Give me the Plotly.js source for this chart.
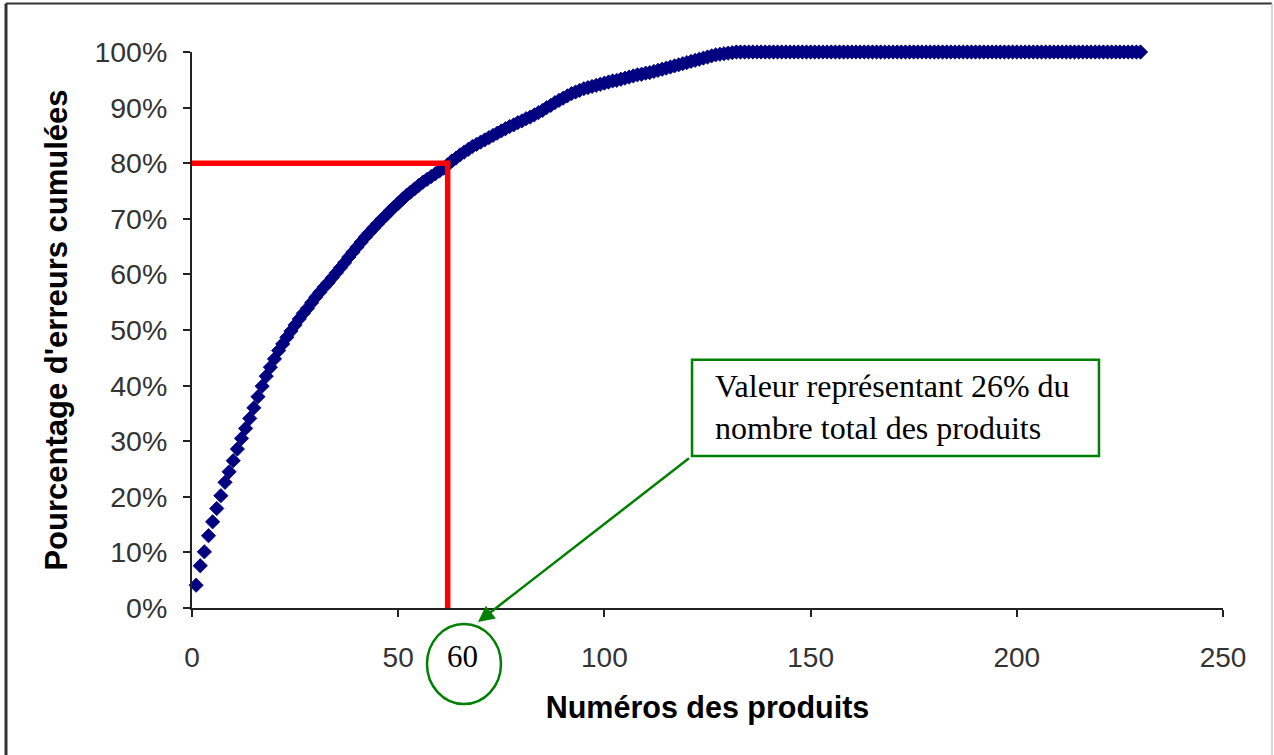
<!DOCTYPE html>
<html>
<head>
<meta charset="utf-8">
<script src="https://cdn.plot.ly/plotly-3.0.1.min.js"></script>
<style>
html,body{margin:0;padding:0;background:#fff;}
#chart{width:1274px;height:755px;}
</style>
</head>
<body>
<div id="chart"></div>
<script>
// Cumulative error percentage per product number
const cumulPct = [
  4.1, 7.6, 10.1, 13.0, 15.5, 17.9, 20.2, 22.6, 24.5, 26.5, 28.6, 30.5, 32.3, 34.1, 36.0,
  38.0, 39.9, 41.7, 43.3, 44.8, 46.3, 47.5, 48.7, 49.8, 50.9, 52.0, 53.0, 53.9, 54.9, 55.9,
  56.8, 57.7, 58.5, 59.4, 60.3, 61.2, 62.1, 63.1, 64.0, 64.9, 65.8, 66.7, 67.5, 68.3, 69.1,
  69.9, 70.6, 71.4, 72.1, 72.8, 73.5, 74.2, 74.8, 75.4, 76.0, 76.6, 77.1, 77.6, 78.1, 78.6,
  79.1, 79.7, 80.4, 80.9, 81.5, 82.0, 82.5, 83.0, 83.4, 83.8, 84.2, 84.6, 85.0, 85.4, 85.8,
  86.2, 86.6, 86.9, 87.3, 87.6, 88.0, 88.3, 88.7, 89.1, 89.5, 90.0, 90.4, 90.9, 91.3, 91.7,
  92.1, 92.5, 92.8, 93.1, 93.4, 93.6, 93.8, 94.0, 94.2, 94.4, 94.6, 94.8, 94.9, 95.1, 95.3,
  95.5, 95.7, 95.9, 96.0, 96.2, 96.3, 96.5, 96.7, 96.9, 97.1, 97.3, 97.5, 97.7, 97.9, 98.1,
  98.3, 98.5, 98.7, 98.9, 99.1, 99.3, 99.5, 99.6, 99.7, 99.8, 99.9,
  100, 100, 100, 100, 100, 100, 100, 100, 100, 100,
  100, 100, 100, 100, 100, 100, 100, 100, 100, 100,
  100, 100, 100, 100, 100, 100, 100, 100, 100, 100,
  100, 100, 100, 100, 100, 100, 100, 100, 100, 100,
  100, 100, 100, 100, 100, 100, 100, 100, 100, 100,
  100, 100, 100, 100, 100, 100, 100, 100, 100, 100,
  100, 100, 100, 100, 100, 100, 100, 100, 100, 100,
  100, 100, 100, 100, 100, 100, 100, 100, 100, 100,
  100, 100, 100, 100, 100, 100, 100, 100, 100, 100,
  100, 100, 100, 100, 100, 100, 100, 100, 100
];
const productNums = cumulPct.map((v, i) => i + 1);

// 80% reference lines
const refX = [0, 62, 62];
const refY = [80, 80, 0];

const xTicks = [0, 50, 100, 150, 200, 250];
const yTicks = [0, 10, 20, 30, 40, 50, 60, 70, 80, 90, 100];
const yTickText = yTicks.map(v => v + '%');

const calloutText = 'Valeur représentant 26% du<br>nombre total des produits';
const calloutValue = '60';

const sans = 'Liberation Sans, Arial, sans-serif';
const serif = 'Liberation Serif, Times New Roman, serif';
const green = '#008000';

const traces = [
  {
    x: productNums, y: cumulPct, type: 'scatter', mode: 'markers', cliponaxis: false,
    marker: {symbol: 'diamond', size: 11, color: '#000080', line: {width: 0.8, color: '#000080'}},
    hoverinfo: 'x+y'
  },
  {
    x: refX, y: refY, type: 'scatter', mode: 'lines', cliponaxis: false,
    line: {color: '#ff0000', width: 5.5}, hoverinfo: 'skip'
  }
];

const layout = {
  width: 1274, height: 755,
  margin: {l: 192, r: 51, t: 52, b: 147},
  paper_bgcolor: '#ffffff', plot_bgcolor: '#ffffff',
  showlegend: false,
  xaxis: {
    range: [0, 250], tickvals: xTicks, showgrid: false, zeroline: false,
    showline: true, linecolor: '#222', linewidth: 2,
    ticks: 'outside', ticklen: 7, tickwidth: 2, tickcolor: '#222',
    ticklabelstandoff: 16,
    tickfont: {family: sans, size: 28, color: '#333'},
    title: {text: 'Numéros des produits', standoff: 25, font: {family: sans, size: 30.5, color: '#000', weight: 'bold'}}
  },
  yaxis: {
    range: [0, 100], tickvals: yTicks, ticktext: yTickText, showgrid: false, zeroline: false,
    showline: true, linecolor: '#222', linewidth: 2,
    ticks: 'outside', ticklen: 7, tickwidth: 2, tickcolor: '#222',
    ticklabelstandoff: 10,
    tickfont: {family: sans, size: 28.5, color: '#333'},
    title: {text: "Pourcentage d'erreurs cumulées", standoff: 18, font: {family: sans, size: 31, color: '#000', weight: 'bold'}}
  },
  shapes: [
    // outer frame
    {type: 'line', xref: 'paper', yref: 'paper', x0: -0.1804, x1: 1.0475, y0: 1.0873, y1: 1.0873, line: {color: '#333', width: 2}},
    {type: 'line', xref: 'paper', yref: 'paper', x0: -0.1804, x1: -0.1804, y0: 1.0873, y1: -0.3, line: {color: '#333', width: 3}},
    {type: 'line', xref: 'paper', yref: 'paper', x0: 1.0475, x1: 1.0475, y0: 1.0873, y1: -0.3, line: {color: '#c8c8c8', width: 1.5}},
    // callout box
    {type: 'rect', xref: 'paper', yref: 'paper', x0: 0.485, x1: 0.8797, y0: 0.2736, y1: 0.4464, line: {color: green, width: 2.5}, fillcolor: 'rgba(255,255,255,0)'},
    // circle around 60
    {type: 'circle', xref: 'paper', yref: 'paper', x0: 0.2279, x1: 0.2997, y0: -0.1728, y1: -0.0288, line: {color: green, width: 2.5}}
  ],
  annotations: [
    {xref: 'paper', yref: 'paper', x: 0.5053, y: 0.361, xanchor: 'left', yanchor: 'middle', align: 'left',
     text: calloutText, showarrow: false, font: {family: serif, size: 32, color: '#000'}},
    {xref: 'paper', yref: 'paper', x: 0.2628, y: -0.088, xanchor: 'center', yanchor: 'middle',
     text: calloutValue, showarrow: false, font: {family: serif, size: 31, color: '#000'}},
    {xref: 'paper', yref: 'paper', x: 0.2774, y: -0.0252, text: ' ', showarrow: true,
     ax: 214, ay: -166, arrowhead: 2, arrowsize: 1.3, arrowwidth: 2.5, arrowcolor: green, standoff: 0, startstandoff: 0}
  ]
};

Plotly.newPlot('chart', traces, layout, {displayModeBar: false, staticPlot: true});
</script>
</body>
</html>
